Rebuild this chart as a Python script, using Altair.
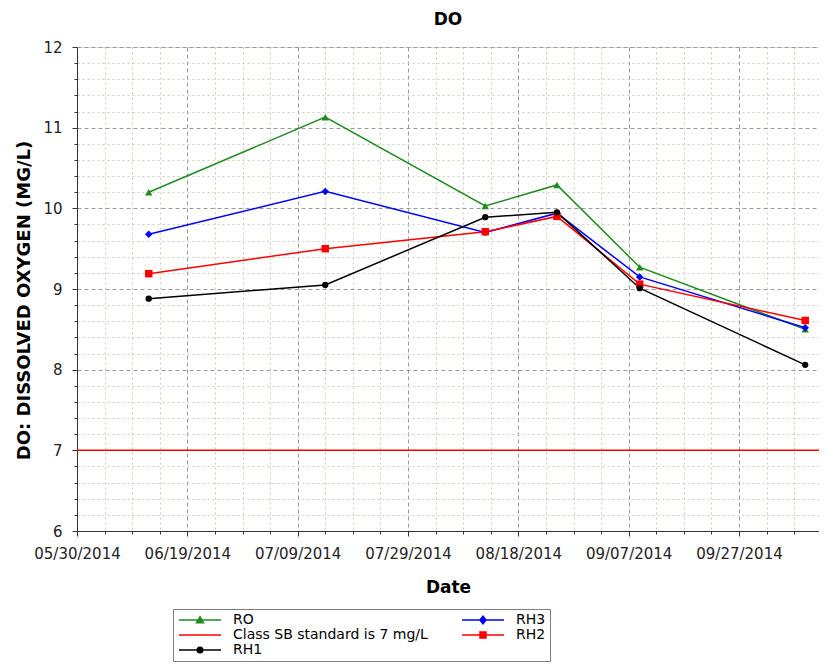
import altair as alt
import pandas as pd

# ---------------- data ----------------
dates = ["2014-06-12", "2014-07-14", "2014-08-12", "2014-08-25", "2014-09-09", "2014-10-09"]
ro = [10.20, 11.13, 10.03, 10.29, 9.27, 8.50]
rh3 = [9.68, 10.21, 9.70, 9.94, 9.15, 8.52]
rh2 = [9.19, 9.50, 9.71, 9.90, 9.06, 8.61]
rh1 = [8.88, 9.05, 9.89, 9.95, 9.01, 8.06]
standard = [7.0]

series_names = ["RO", "RH3", "RH2", "RH1"]
series_colors = ["#1E8C1E", "#0000FF", "#FF0000", "#000000"]
series_shapes = ["triangle-up", "diamond", "square", "circle"]

legend_labels = ["RO", "RH3", "Class SB standard is 7 mg/L", "RH2", "RH1"]
legend_colors = ["#1E8C1E", "#0000FF", "#FF0000", "#FF0000", "#000000"]

x_start = "2014-05-30"
x_tick_step_days = 5
x_major_every = 4
y_min, y_max, y_minor = 6, 12, 0.2

# ---------------- tables ----------------
rows = []
for name, vals in zip(series_names, [ro, rh3, rh2, rh1]):
    for d, v in zip(dates, vals):
        rows.append({"date": d, "value": v, "series": name})
df = pd.DataFrame(rows)
std_df = pd.DataFrame({"value": standard})
leg_df = pd.DataFrame({"entry": legend_labels})

epoch = pd.Timestamp("1970-01-01")
ms = pd.Timedelta("1ms")
start_ms = int((pd.Timestamp(x_start) - epoch) // ms)
day_ms = 86400000
end_ms = start_ms + int(134.5 * day_ms)
x_ticks = [start_ms + i * x_tick_step_days * day_ms for i in range(27)]
major_ms = x_tick_step_days * x_major_every * day_ms
x_major = f"(time(datum.value) - {start_ms}) % {major_ms} === 0"

y_ticks = [round(y_min + y_minor * i, 1) for i in range(31)]
y_major = "abs(datum.value - round(datum.value)) < 0.001"

FONT = "DejaVu Sans"

x_axis = alt.Axis(
    values=x_ticks,
    labelExpr=f"{x_major} ? utcFormat(datum.value, '%m/%d/%Y') : ''",
    labelFont=FONT, labelFontSize=15, labelColor="#222222", labelPadding=10,
    labelFlush=False, labelOverlap=False,
    tickSize={"condition": {"test": x_major, "value": 5}, "value": 3},
    tickColor="#333333", domainColor="#333333",
    grid=True,
    gridColor={"condition": {"test": x_major, "value": "#9A9A9A"}, "value": "#CDCDB8"},
    gridDash={"condition": {"test": x_major, "value": [4, 3]}, "value": [2, 3]},
    gridWidth=1,
    titleFont=FONT, titleFontSize=17, titleFontWeight="bold", titleColor="black",
    titleY=61, titleBaseline="alphabetic",
)
y_axis = alt.Axis(
    values=y_ticks,
    labelExpr=f"{y_major} ? format(datum.value, 'd') : ''",
    labelFont=FONT, labelFontSize=15, labelColor="#222222", labelPadding=10,
    labelOverlap=False,
    tickSize={"condition": {"test": y_major, "value": 5}, "value": 3},
    tickColor="#333333", domainColor="#333333",
    grid=True,
    gridColor={"condition": {"test": y_major, "value": "#9A9A9A"}, "value": "#CDCDB8"},
    gridDash={"condition": {"test": y_major, "value": [4, 3]}, "value": [2, 3]},
    gridWidth=1,
    titleFont=FONT, titleFontSize=18, titleFontWeight="bold", titleColor="black",
    titleX=-48, titleY=253, titleBaseline="alphabetic",
)

x_enc = alt.X("date:T", scale=alt.Scale(type="utc", domain=[start_ms, end_ms]),
              axis=x_axis, title="Date")
y_enc = alt.Y("value:Q", scale=alt.Scale(domain=[y_min, y_max], nice=False, zero=False),
              axis=y_axis, title="DO: DISSOLVED OXYGEN (MG/L)")
color_enc = alt.Color("series:N", scale=alt.Scale(domain=series_names, range=series_colors),
                      legend=None)

rule = alt.Chart(std_df).mark_rule(color="#FF0000", strokeWidth=1.5).encode(y=y_enc)

lines = alt.Chart(df).mark_line(strokeWidth=1.5).encode(x=x_enc, y=y_enc, color=color_enc)

point_layers = []
for name, shp in zip(series_names, series_shapes):
    size = 40 if shp == "circle" else 56
    point_layers.append(
        alt.Chart(df).transform_filter(alt.datum.series == name)
        .mark_point(shape=shp, filled=True, size=size, opacity=1)
        .encode(x=x_enc, y=y_enc, color=color_enc)
    )

# legend symbols: a line with the series marker on it
line_p = "M-4.2,0H4.2"
legend_paths = [
    line_p + "M0,-0.65L0.7,0.55L-0.7,0.55Z",
    line_p + "M0,-0.75L0.6,0L0,0.75L-0.6,0Z",
    line_p,
    line_p + "M-0.6,-0.6H0.6V0.6H-0.6Z",
    line_p + "M-0.55,0A0.55,0.55,0,1,0,0.55,0A0.55,0.55,0,1,0,-0.55,0Z",
]


def make_legend():
    return alt.Legend(
        title=None, orient="none", legendX=96, legendY=562, columns=2,
        direction="horizontal",
        columnPadding=31, rowPadding=1, padding=4,
        strokeColor="#808080", fillColor="white",
        symbolSize=100, symbolOffset=16, labelOffset=26, symbolStrokeWidth=1.5,
        symbolOpacity=1, labelFont=FONT, labelFontSize=14, labelColor="black",
        labelLimit=600,
    )


legend_layer = alt.Chart(leg_df).mark_point(opacity=0, filled=True).encode(
    fill=alt.Fill("entry:N", scale=alt.Scale(domain=legend_labels, range=legend_colors),
                  legend=make_legend()),
    stroke=alt.Stroke("entry:N", scale=alt.Scale(domain=legend_labels, range=legend_colors),
                      legend=make_legend()),
    shape=alt.Shape("entry:N", scale=alt.Scale(domain=legend_labels, range=legend_paths),
                    legend=make_legend()),
)

chart = alt.layer(rule, lines, *point_layers, legend_layer).properties(
    width=742, height=484,
    autosize=alt.AutoSizeParams(type="none"),
    padding={"left": 69, "top": 39, "right": 0, "bottom": 131},
    title=alt.TitleParams("DO", font=FONT, fontSize=17, fontWeight="bold",
                          color="black", anchor="middle", offset=11),
).configure_view(
    fill="#FAFAD4", stroke="#555555", strokeWidth=1
).configure(background="white")

chart.save("out.html", embed_options={"renderer": "svg", "actions": False})
